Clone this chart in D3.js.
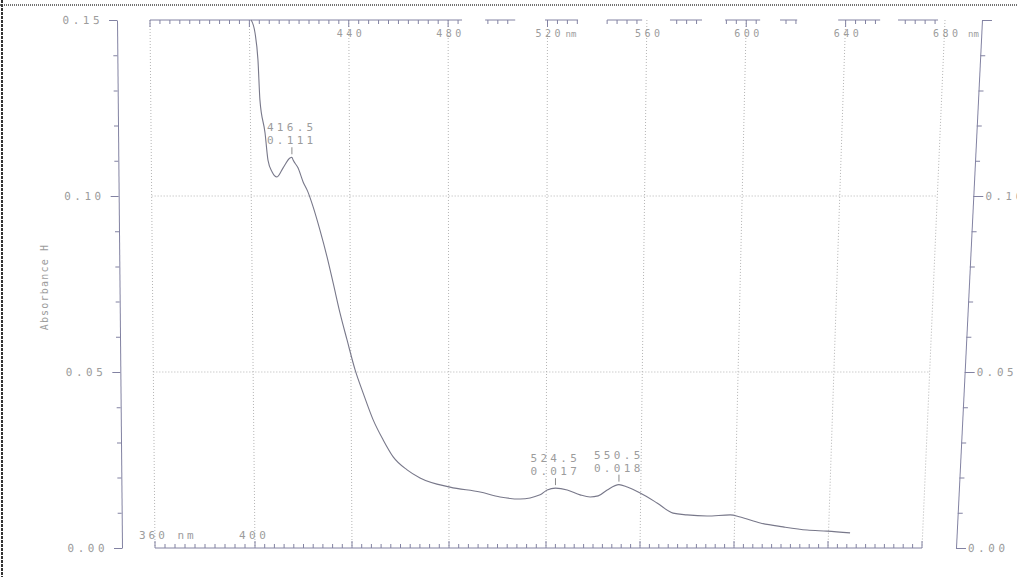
<!DOCTYPE html>
<html>
<head>
<meta charset="utf-8">
<script src="https://cdn.jsdelivr.net/npm/d3@7"></script>
<style>
  body { margin: 0; background: #fff; }
  svg text { font-family: "DejaVu Sans Mono", monospace; fill: #9c9c9c; }
</style>
</head>
<body>
<svg width="1017" height="577"></svg>
<script>
// spectrum (nm, absorbance)
const wavelength = [399.8, 401.4, 402.6, 403.4, 405.5, 406.7, 408.4, 410.4, 412.9, 415.7, 416.5, 417.0, 419.0,
  421.1, 423.1, 425.2, 428.0, 430.9, 433.4, 436.2, 439.1, 442.4, 445.7, 449.8, 453.9, 458.0, 463.7, 469.0,
  481.3, 493.6, 501.8, 510.0, 518.2, 521.1, 524.5, 529.3, 534.6, 538.7, 542.0, 545.7, 550.5, 553.9, 559.2,
  566.1, 572.7, 578.4, 586.6, 596.1, 600.2, 608.4, 617.8, 627.6, 635.8, 645.2]
const absorbance = [0.150, 0.1463, 0.1386, 0.1273, 0.1179, 0.1102, 0.1068, 0.1054, 0.1080, 0.1108, 0.111, 0.1102, 0.1080,
  0.1040, 0.1011, 0.0969, 0.0903, 0.0827, 0.0753, 0.0668, 0.0591, 0.0506, 0.0440, 0.0364, 0.0307, 0.0259, 0.0222, 0.0199,
  0.0173, 0.0159, 0.0145, 0.0139, 0.0151, 0.0165, 0.017, 0.0165, 0.0151, 0.0145, 0.0148, 0.0165, 0.018, 0.0173, 0.0156,
  0.0128, 0.0099, 0.0094, 0.0091, 0.0094, 0.0088, 0.0071, 0.0060, 0.0051, 0.0048, 0.0043]

const peakNm = [416.5, 524.5, 550.5]
const peakAbs = [0.111, 0.017, 0.018]

const gridNm = [360, 400, 440, 480, 520, 560, 600, 640, 680]
const topLabels = ['440', '480', '520', '560', '600', '640', '680']
const yLabels = [0.15, 0.10, 0.05, 0.00]
const gridAbs = [0.05, 0.10]
// pieces of the top tick rail that survived the scan (nm)
const topSegments = [[360, 485.6], [494.9, 507], [519, 532.3], [544, 558.1], [569.3, 582.2],
  [591.5, 605.6], [613.6, 620.5], [637, 653.9], [661.1, 677.2]]

const axisColor = '#8282a2'
const gridColor = '#b4b4b4'

// the scanned sheet is a little keystoned: wider at the top than at the bottom
const x = d3.scaleLinear().domain([360, 680]).range([154, 935])
const xTop = d3.scaleLinear().domain([360, 680]).range([150, 945])
const xBot = d3.scaleLinear().domain([360, 400, 520, 680]).range([155, 255, 546, 922])
const y = d3.scaleLinear().domain([0, 0.15]).range([548, 20])
const gx = (nm, py) => xTop(nm) + (xBot(nm) - xTop(nm)) * (py - y(0.15)) / (y(0) - y(0.15))

const svg = d3.select('svg')

// scanner frame
svg.append('line').attr('x1', 2).attr('x2', 2).attr('y1', 0).attr('y2', 577)
  .attr('stroke', '#333').attr('stroke-width', 2).attr('stroke-dasharray', '3,1')
svg.append('line').attr('x1', 0).attr('x2', 1017).attr('y1', 5).attr('y2', 5)
  .attr('stroke', '#444').attr('stroke-width', 1.5).attr('stroke-dasharray', '1,1')

// dotted grid
svg.append('g').selectAll('line')
    .data(gridNm)
  .enter().append('line')
    .attr('x1', d => xTop(d)).attr('x2', d => xBot(d))
    .attr('y1', y(0.15)).attr('y2', y(0))
    .attr('stroke', gridColor).attr('stroke-dasharray', '1,2')

svg.append('g').selectAll('line')
    .data(gridAbs)
  .enter().append('line')
    .attr('x1', d => gx(360, y(d))).attr('x2', d => gx(680, y(d)))
    .attr('y1', d => y(d)).attr('y2', d => y(d))
    .attr('stroke', gridColor).attr('stroke-dasharray', '1,2')

const minorAbs = d3.range(0, 16).map(i => i / 100)
const isMajor = d => yLabels.some(v => Math.abs(v - d) < 1e-9)

function styleAxis(g) {
  g.selectAll('path.domain').attr('stroke', axisColor)
  g.selectAll('line').attr('stroke', axisColor)
  g.selectAll('text').attr('fill', '#9c9c9c').attr('font-size', 11)
    .attr('letter-spacing', 3.5).attr('font-family', '"DejaVu Sans Mono", monospace')
}

// slanted frame sides, as in the scan
function slant(x0, x1) {
  const k = (x1 - x0) / (y(0) - y(0.15))
  return `translate(${x0 - y(0.15) * k},0) skewX(${Math.atan(k) * 180 / Math.PI})`
}

// left axis
svg.append('g')
    .attr('transform', slant(117, 122))
    .call(d3.axisLeft(y).tickValues(minorAbs).tickSize(4).tickSizeOuter(0)
      .tickFormat(d => isMajor(d) ? d3.format('.2f')(d) : ''))
    .call(styleAxis)
    .call(g => g.selectAll('.tick line').attr('x2', d => isMajor(d) ? -8 : -4))
    .call(g => g.selectAll('text').attr('x', -14))

// right axis (its labels run off the sheet edge, as scanned)
svg.append('g')
    .attr('transform', slant(982, 956))
    .call(d3.axisRight(y).tickValues(minorAbs).tickSize(5).tickSizeOuter(0)
      .tickFormat(d => isMajor(d) && d < 0.12 ? d3.format('.2f')(d) : ''))
    .call(styleAxis)
    .call(g => g.selectAll('.tick line').attr('x2', d => isMajor(d) ? 10 : 5))
    .call(g => g.selectAll('text').attr('x', 12))

// bottom tick rail
const bottomTicks = d3.range(360, 681, 4)
const bottomRail = svg.append('g').attr('transform', `translate(0,${y(0)})`)
bottomRail.append('line').attr('x1', xBot(360)).attr('x2', xBot(680))
  .attr('stroke', axisColor)
bottomRail.selectAll('line.t')
    .data(bottomTicks)
  .enter().append('line').attr('class', 't')
    .attr('x1', d => xBot(d)).attr('x2', d => xBot(d))
    .attr('y1', 0).attr('y2', d => d % 40 === 0 ? -7 : -4)
    .attr('stroke', axisColor)
bottomRail.append('text').attr('x', xBot(360) - 16).attr('y', -9).attr('font-size', 11)
  .attr('letter-spacing', 3).text('360 nm')
bottomRail.append('text').attr('x', xBot(400) - 16).attr('y', -9).attr('font-size', 11)
  .attr('letter-spacing', 3.5).text('400')

// top tick rail, broken like the scan
const topRail = svg.append('g').attr('transform', `translate(0,${y(0.15)})`)
topSegments.forEach(([a, b]) => {
  topRail.append('line').attr('x1', xTop(a)).attr('x2', xTop(b)).attr('stroke', axisColor)
  topRail.selectAll(null)
      .data(d3.range(Math.ceil(a / 4) * 4, b + 0.1, 4))
    .enter().append('line')
      .attr('x1', d => xTop(d)).attr('x2', d => xTop(d))
      .attr('y1', 0).attr('y2', d => d % 40 === 0 ? 7 : 4)
      .attr('stroke', axisColor)
})
topRail.selectAll('text.lab')
    .data(topLabels)
  .enter().append('text').attr('class', 'lab')
    .attr('x', d => xTop(+d) - 12).attr('y', 17)
    .attr('font-size', 10).attr('letter-spacing', 3.5)
    .text(d => d)
topRail.append('text').attr('x', xTop(520) + 18).attr('y', 17).attr('font-size', 9).text('nm')
topRail.append('text').attr('x', xTop(680) + 23).attr('y', 17).attr('font-size', 9).text('nm')

// y title
svg.append('text')
    .attr('transform', 'translate(48,287) rotate(-90)')
    .attr('text-anchor', 'middle').attr('font-size', 10).attr('letter-spacing', 1.2)
    .attr('font-family', '"DejaVu Sans", sans-serif')
    .text('Absorbance H')

// spectrum
const line = d3.line()
  .x(i => x(wavelength[i]))
  .y(i => y(absorbance[i]))
  .curve(d3.curveMonotoneX)

svg.append('path')
    .datum(d3.range(wavelength.length))
    .attr('d', line)
    .attr('fill', 'none')
    .attr('stroke', '#78788a')
    .attr('stroke-width', 1.1)

// peak picks
const peaks = svg.append('g').selectAll('g')
    .data(d3.range(peakNm.length))
  .enter().append('g')
    .attr('transform', i => `translate(${x(peakNm[i])},${y(peakAbs[i])})`)

peaks.append('line')
    .attr('y1', -3).attr('y2', -10)
    .attr('stroke', '#8a8a8a')
peaks.append('text')
    .attr('x', -25).attr('y', -13).attr('font-size', 11).attr('letter-spacing', 3.3)
    .text(i => peakAbs[i].toFixed(3))
peaks.append('text')
    .attr('x', -25).attr('y', -26).attr('font-size', 11).attr('letter-spacing', 3.3)
    .text(i => peakNm[i].toFixed(1))
</script>
</body>
</html>
